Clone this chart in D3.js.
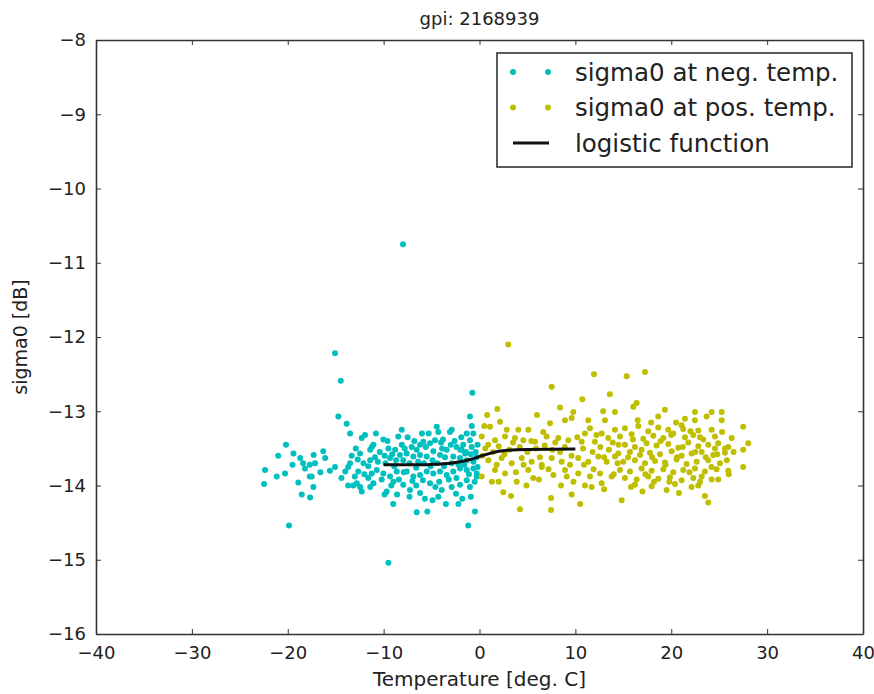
<!DOCTYPE html>
<html>
<head>
<meta charset="utf-8">
<script src="https://cdn.jsdelivr.net/npm/d3@7"></script>
<style>
  html, body { margin: 0; padding: 0; background: #fff; }
  svg { display: block; font-family: "DejaVu Sans", sans-serif; }
</style>
</head>
<body>
<svg></svg>
<script>
// sigma0 samples at negative temperature: [temperature, sigma0]
const negPoints = [
  [-15.07,-12.22],[-14.47,-12.59],[-14.72,-13.07],[-13.85,-13.17],[-13.5,-13.30],[-12.28,-13.36],[-11.94,-13.32],
  [-20.18,-13.45],[-19.4,-13.57],[-18.7,-13.63],[-18.4,-13.70],[-18.2,-13.77],[-17.3,-13.59],[-16.3,-13.54],
  [-16.1,-13.63],[-17.7,-13.72],[-17.15,-13.70],[-22.37,-13.79],[-22.47,-13.98],[-21.15,-13.88],[-20.28,-13.84],
  [-18.9,-13.96],[-17.7,-13.88],[-17.5,-13.88],[-17.33,-14.02],[-18.54,-14.12],[-17.67,-14.16],[-19.87,-14.54],
  [-15.6,-13.80],[-15.07,-13.75],[-14.0,-13.81],[-13.7,-13.75],[-13.5,-13.70],[-13.33,-13.60],[-12.64,-13.81],
  [-12.46,-13.57],[-12.1,-13.70],[-11.6,-13.74],[-11.4,-13.66],[-13.7,-14.0],[-13.16,-14.0],[-12.8,-13.97],
  [-12.46,-14.02],[-12.28,-14.08],[-11.6,-13.90],[-11.4,-14.02],[-11.24,-13.48],[-11.24,-13.84],[-7.98,-10.75],
  [-0.75,-12.75],[-0.99,-13.07],[-9.5,-15.04],[-6.55,-14.36],[-5.44,-14.35],[-0.47,-14.35],[-1.17,-14.54],
  [-8.11,-13.25],[-8.47,-13.34],[-10.03,-13.38],[-11.07,-13.45],[-11.4,-13.52],[-4.46,-13.21],[-4.3,-13.28],
  [-3.08,-13.28],[-5.86,-13.41],[-5.16,-13.43],[-4.64,-13.39],[-1.33,-13.30],[-0.99,-13.39],[-0.81,-13.48],
  [-0.64,-13.30],[-2.4,-13.48],[-1.86,-13.52],[-1.5,-13.57],[-8.8,-13.52],[-8.3,-13.59],[-7.6,-13.57],
  [-7.07,-13.48],[-6.55,-13.52],[-9.33,-13.63],[-7.95,-13.66],[-6.9,-13.61],[-6.2,-13.59],[-5.5,-13.61],
  [-4.82,-13.54],[-4.12,-13.59],[-3.42,-13.52],[-2.73,-13.61],[-2.03,-13.63],[-1.33,-13.66],[-0.64,-13.68],
  [-10.72,-13.79],[-10.03,-13.84],[-9.33,-13.88],[-8.63,-13.81],[-7.59,-13.81],[-6.9,-13.88],[-6.2,-13.86],
  [-5.5,-13.81],[-4.82,-13.84],[-4.12,-13.81],[-3.42,-13.86],[-2.73,-13.81],[-2.03,-13.77],[-1.33,-13.79],
  [-0.64,-13.77],[-0.29,-13.84],[-11.07,-13.97],[-9.68,-14.08],[-8.98,-13.95],[-7.95,-13.99],[-7.25,-14.06],
  [-6.2,-14.10],[-5.16,-13.97],[-4.3,-14.15],[-3.94,-14.06],[-2.9,-14.02],[-2.03,-13.99],[-1.33,-13.93],
  [-0.29,-13.88],[-2.45,-14.11],[-9.8,-13.70],[-8.9,-13.74],[-7.3,-13.70],[-6.6,-13.76],[-5.8,-13.70],
  [-5.1,-13.74],[-4.4,-13.70],[-3.7,-13.74],[-2.9,-13.70],[-2.2,-13.72],[-1.6,-13.72],[-0.9,-13.58],
  [-0.3,-13.62],[-0.2,-13.45],[-0.5,-13.95],[-1.0,-14.02],[-3.2,-13.92],[-5.9,-13.93],[-8.4,-13.92],
  [-9.9,-13.60],[-10.4,-13.55],[-10.6,-13.68],[-8.1,-13.45],[-6.0,-13.30],[-3.8,-13.38],[-2.6,-13.40],
  [-1.9,-13.35],[-7.3,-14.15],[-9.0,-14.25],[-4.9,-14.20],[-3.5,-14.25],[-1.8,-14.18],[-6.8,-13.40],
  [-9.6,-13.40],[-12.9,-13.50],[-10.9,-13.62],[-9.9,-14.12],[-12.0,-13.85],[-12.7,-13.65],
  [-9.5,-13.50],[-8.7,-13.66],[-7.8,-13.50],[-7.0,-13.94],[-6.4,-13.68],[-5.6,-13.48],[-4.9,-13.66],
  [-4.2,-13.95],[-3.6,-13.62],[-3.0,-13.45],[-2.4,-13.90],[-1.7,-13.45],[-1.1,-13.85],[-0.4,-13.55],
  [-0.8,-13.20],[-2.9,-13.25],[-5.3,-13.30],[-7.5,-13.35],[-9.2,-14.00],[-6.6,-14.00],[-4.6,-14.02],
  [-2.2,-14.25],[-0.9,-14.15],[-10.2,-13.92],[-10.8,-13.30],[-8.6,-14.12],[-5.7,-14.18],[-3.9,-13.50],
  [-1.4,-13.55],[-0.2,-13.75],[-6.2,-13.45],[-7.9,-13.82],[-9.1,-13.58],[-4.0,-13.42],[-2.0,-13.52],
  [-13.0,-13.88],[-14.4,-13.90],[-16.6,-13.82],[-19.5,-13.72],[-21.0,-13.60]
];

// sigma0 samples at positive temperature: [temperature, sigma0]
const posPoints = [
  [3.0,-12.10],[11.94,-12.50],[7.53,-12.67],[13.6,-12.77],[10.72,-12.84],[1.86,-12.97],[9.78,-13.01],
  [14.13,-13.01],[7.35,-13.16],[8.92,-13.12],[9.61,-13.09],[2.14,-13.14],[1.09,-13.21],[2.84,-13.25],
  [4.05,-13.25],[5.09,-13.25],[6.65,-13.28],[11.35,-13.12],[13.09,-13.12],[11.52,-13.23],[11.0,-13.30],
  [12.74,-13.30],[14.13,-13.25],[0.23,-13.34],[1.62,-13.39],[2.66,-13.34],[3.70,-13.36],[4.57,-13.39],
  [5.79,-13.41],[7.0,-13.34],[8.22,-13.36],[9.26,-13.39],[10.66,-13.41],[12.04,-13.41],[13.43,-13.36],
  [0.92,-13.66],[2.31,-13.63],[3.36,-13.70],[4.40,-13.63],[5.44,-13.68],[6.49,-13.72],[7.53,-13.63],
  [8.57,-13.68],[9.44,-13.72],[10.3,-13.63],[11.35,-13.68],[12.39,-13.61],[13.26,-13.68],[14.13,-13.61],
  [0.23,-13.88],[1.62,-13.79],[2.66,-13.84],[3.88,-13.95],[5.09,-13.79],[6.49,-13.75],[7.70,-13.86],
  [8.92,-13.79],[10.3,-13.84],[11.52,-13.88],[12.57,-13.84],[13.79,-13.88],[2.48,-14.09],[3.28,-14.14],
  [4.22,-14.32],[7.46,-14.17],[7.46,-14.33],[9.61,-14.12],[11.7,-14.02],[12.74,-13.97],
  [15.35,-12.53],[17.26,-12.47],[16.04,-12.94],[16.39,-12.89],[19.34,-12.98],[18.64,-13.07],[21.43,-13.10],
  [22.47,-13.01],[22.47,-13.12],[23.69,-13.07],[24.21,-13.01],[25.26,-13.01],[25.26,-13.12],[21.25,-13.24],
  [24.21,-13.25],[27.5,-13.21],[26.3,-13.36],[28.03,-13.43],[27.5,-13.52],[27.5,-13.75],[24.56,-13.50],
  [25.6,-13.50],[14.83,-14.20],[23.51,-14.14],[23.86,-14.23],[19.52,-14.06],
  [15.17,-13.23],[16.56,-13.20],[17.6,-13.27],[18.65,-13.22],[19.69,-13.25],[21.08,-13.19],[22.82,-13.26],
  [14.65,-13.34],[15.87,-13.31],[17.08,-13.37],[18.13,-13.33],[19.17,-13.36],[20.21,-13.30],[21.43,-13.35],
  [22.3,-13.32],[23.34,-13.38],[24.56,-13.34],
  [15.17,-13.45],[16.21,-13.48],[17.43,-13.43],[18.47,-13.46],[19.69,-13.44],[20.73,-13.49],[21.78,-13.42],
  [22.82,-13.47],[23.86,-13.45],[24.9,-13.43],[25.95,-13.48],
  [14.48,-13.57],[15.69,-13.55],[16.74,-13.59],[17.78,-13.56],[18.82,-13.58],[20.04,-13.54],[21.08,-13.60],
  [22.12,-13.57],[23.17,-13.55],[24.38,-13.59],[25.6,-13.56],
  [15.0,-13.68],[16.21,-13.66],[17.26,-13.70],[18.3,-13.67],[19.34,-13.69],[20.56,-13.65],[21.6,-13.71],
  [22.65,-13.68],[23.86,-13.66],[25.08,-13.70],
  [14.65,-13.79],[15.69,-13.81],[16.91,-13.77],[17.95,-13.80],[19.17,-13.78],[20.21,-13.82],[21.25,-13.79],
  [22.47,-13.77],[23.51,-13.81],[24.73,-13.78],[25.95,-13.80],
  [15.17,-13.90],[16.39,-13.92],[17.6,-13.88],[18.65,-13.91],[19.86,-13.89],[21.08,-13.93],[22.3,-13.90],
  [23.17,-13.88],[24.21,-13.92],[16.21,-13.99],[17.95,-14.01],[20.39,-13.98],[22.12,-14.02],[22.82,-14.0],
  [0.6,-13.50],[1.4,-13.55],[2.0,-13.47],[3.1,-13.52],[4.2,-13.48],[5.0,-13.55],[5.9,-13.50],[6.8,-13.46],
  [7.6,-13.52],[8.4,-13.55],[10.8,-13.50],[11.8,-13.55],[12.6,-13.48],[13.5,-13.52],[0.5,-13.20],
  [1.3,-13.95],[4.9,-14.00],[6.2,-13.92],[8.5,-14.00],[9.8,-13.95],[13.0,-14.05],[14.5,-13.45],
  [14.0,-13.85],[0.8,-13.05],[6.0,-13.05],[8.4,-12.95],[12.9,-13.00],[10.5,-14.25],
  [0.3,-13.60],[0.9,-13.45],[1.8,-13.72],[2.6,-13.58],[3.5,-13.42],[4.6,-13.72],[5.4,-13.40],[6.3,-13.62],
  [7.2,-13.78],[7.9,-13.42],[8.9,-13.48],[9.6,-13.60],[10.2,-13.35],[10.9,-13.72],[11.9,-13.78],[12.2,-13.32],
  [13.0,-13.62],[13.9,-13.42],[14.4,-13.70],[3.8,-13.82],[5.6,-13.90],[9.1,-13.88],[11.0,-14.00],[2.0,-13.95],
  [15.5,-13.62],[16.0,-13.38],[16.9,-13.52],[17.3,-13.85],[18.0,-13.62],[18.9,-13.40],[19.4,-13.72],
  [20.0,-13.32],[20.6,-13.62],[21.2,-13.48],[21.9,-13.82],[22.5,-13.55],[23.0,-13.35],[23.6,-13.62],
  [24.2,-13.75],[24.8,-13.58],[25.3,-13.28],[25.8,-13.66],[26.5,-13.55],[26.0,-13.85],[19.8,-13.95],
  [17.0,-14.08],[20.8,-14.10],[23.0,-13.95],[16.5,-13.12],[20.5,-13.15],[18.2,-13.95],[15.8,-14.02],
  [24.9,-13.92],[22.0,-13.27],[17.9,-13.15]
];

// fitted logistic function
const fitT = [-10, -6, -4, -3, -2, -1, 0, 1, 2, 3, 5, 10];
const fitS = [-13.72, -13.72, -13.71, -13.70, -13.68, -13.65, -13.61, -13.57, -13.54, -13.525, -13.515, -13.51];

const xTicks = [-40, -30, -20, -10, 0, 10, 20, 30, 40];
const yTicks = [-16, -15, -14, -13, -12, -11, -10, -9, -8];
const legendLabels = ["sigma0 at neg. temp.", "sigma0 at pos. temp.", "logistic function"];

const width = 874,
      height = 694,
      margin = {top: 40, right: 11, bottom: 60, left: 96},
      cNeg = "#00bfbf",
      cPos = "#bfbf00",
      axisColor = "#333",
      dotR = 3;

const svg = d3.select("svg")
  .attr("width", width)
  .attr("height", height);

const x = d3.scaleLinear().domain([-40, 40]).range([margin.left, width - margin.right]);
const y = d3.scaleLinear().domain([-16, -8]).range([height - margin.bottom, margin.top]);

// points
svg.append("g").selectAll("circle")
  .data(negPoints)
  .enter().append("circle")
  .attr("cx", d => x(d[0]))
  .attr("cy", d => y(d[1]))
  .attr("r", dotR)
  .attr("fill", cNeg);

svg.append("g").selectAll("circle")
  .data(posPoints)
  .enter().append("circle")
  .attr("cx", d => x(d[0]))
  .attr("cy", d => y(d[1]))
  .attr("r", dotR)
  .attr("fill", cPos);

const line = d3.line()
  .x(d => x(d[0]))
  .y(d => y(d[1]))
  .curve(d3.curveMonotoneX);

svg.append("path")
  .datum(fitT.map((t, i) => [t, fitS[i]]))
  .attr("d", line)
  .attr("fill", "none")
  .attr("stroke", "#111")
  .attr("stroke-width", 3);

// axes: ticks inside, on all four sides
const fmt = d3.format("d");
const axBottom = svg.append("g")
  .attr("transform", "translate(0," + y(-16) + ")")
  .call(d3.axisBottom(x).tickValues(xTicks).tickFormat(fmt).tickSizeInner(-5).tickSizeOuter(0).tickPadding(12));
const axTop = svg.append("g")
  .attr("transform", "translate(0," + y(-8) + ")")
  .call(d3.axisTop(x).tickValues(xTicks).tickFormat("").tickSizeInner(-5).tickSizeOuter(0));
const axLeft = svg.append("g")
  .attr("transform", "translate(" + x(-40) + ",0)")
  .call(d3.axisLeft(y).tickValues(yTicks).tickFormat(fmt).tickSizeInner(-5).tickSizeOuter(0).tickPadding(10));
const axRight = svg.append("g")
  .attr("transform", "translate(" + x(40) + ",0)")
  .call(d3.axisRight(y).tickValues(yTicks).tickFormat("").tickSizeInner(-5).tickSizeOuter(0));

[axBottom, axTop, axLeft, axRight].forEach(a => {
  a.select(".domain").attr("stroke", axisColor).attr("stroke-width", 1.6);
  a.selectAll(".tick line").attr("stroke", axisColor);
  a.selectAll("text").attr("font-size", 18).attr("fill", "#222").attr("font-family", "DejaVu Sans");
});

// title and labels
svg.append("text")
  .attr("x", (x(-40) + x(40)) / 2)
  .attr("y", 25)
  .attr("text-anchor", "middle")
  .attr("font-size", 18)
  .attr("fill", "#222")
  .text("gpi: 2168939");

svg.append("text")
  .attr("x", (x(-40) + x(40)) / 2)
  .attr("y", 686)
  .attr("text-anchor", "middle")
  .attr("font-size", 20)
  .attr("fill", "#222")
  .text("Temperature [deg. C]");

svg.append("text")
  .attr("transform", "translate(27," + y(-12) + ") rotate(-90)")
  .attr("text-anchor", "middle")
  .attr("font-size", 19)
  .attr("fill", "#222")
  .text("sigma0 [dB]");

// legend
const legend = svg.append("g").attr("transform", "translate(497,53)");
legend.append("rect")
  .attr("width", 355)
  .attr("height", 114)
  .attr("fill", "#fff")
  .attr("stroke", axisColor)
  .attr("stroke-width", 1.6);

const rows = legend.selectAll("g.row")
  .data(legendLabels)
  .enter().append("g")
  .attr("class", "row")
  .attr("transform", (d, i) => "translate(0," + (19 + i * 35.5) + ")");

rows.filter((d, i) => i < 2).selectAll("circle")
  .data((d, i) => [16, 51].map(cx => ({cx, c: i === 0 ? cNeg : cPos})))
  .enter().append("circle")
  .attr("cx", d => d.cx)
  .attr("cy", 0)
  .attr("r", dotR)
  .attr("fill", d => d.c);

rows.filter((d, i) => i === 2).append("line")
  .attr("x1", 16).attr("x2", 52)
  .attr("stroke", "#111")
  .attr("stroke-width", 3);

rows.append("text")
  .attr("x", 78)
  .attr("dy", "0.35em")
  .attr("font-size", 24.5)
  .attr("fill", "#222")
  .text(d => d);
</script>
</body>
</html>
